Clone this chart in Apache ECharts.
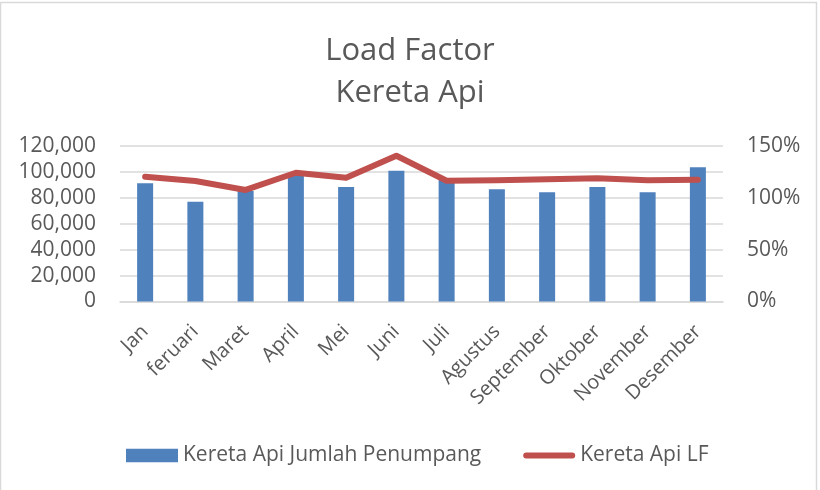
<!DOCTYPE html>
<html>
<head>
<meta charset="utf-8">
<script src="https://cdn.jsdelivr.net/npm/echarts@6/dist/echarts.min.js"></script>
<style>
html,body{margin:0;padding:0;background:#fff;}
#chart{width:820px;height:490px;}
</style>
</head>
<body>
<div id="chart"></div>
<script>
const categories = ['Jan','feruari','Maret','April','Mei','Juni','Juli','Agustus','September','Oktober','November','Desember'];
const penumpang = [91200, 77000, 85300, 97600, 88400, 100900, 94000, 86600, 84300, 88400, 84300, 103600];
const loadFactor = [120.4, 116.2, 107.6, 124.2, 119.4, 140.6, 116.5, 116.9, 117.9, 118.8, 116.9, 117.5];
const leftTicks = { min: 0, max: 120000, interval: 20000 };
const rightTicks = { min: 0, max: 150, interval: 50 };

const FONT = 'Open Sans';
const GREY = '#595959';
const chart = echarts.init(document.getElementById('chart'), null, {renderer: 'canvas'});
chart.setOption({
  animation: false,
  backgroundColor: '#fff',
  textStyle: { fontFamily: FONT },
  graphic: [{
    type: 'rect', shape: { x: 0.5, y: 2.5, width: 816, height: 500 },
    style: { fill: 'none', stroke: '#d9d9d9', lineWidth: 1.5 }, silent: true
  }],
  title: {
    text: 'Load Factor\nKereta Api',
    left: 'center', top: 25,
    textStyle: { fontFamily: FONT, fontSize: 31, fontWeight: 'normal', color: GREY, lineHeight: 42 }
  },
  legend: {
    left: 121, top: 440,
    itemWidth: 52, itemHeight: 13.5, itemGap: 42,
    textStyle: { fontFamily: FONT, fontSize: 21, color: GREY },
    data: [
      { name: 'Kereta Api Jumlah Penumpang', icon: 'rect' },
      { name: 'Kereta Api LF', icon: 'path://M3,0 L49,0 A3,3 0 0 1 49,6 L3,6 A3,3 0 0 1 3,0 Z' }
    ]
  },
  grid: { left: 120, right: 97, top: 146, bottom: 188.5, containLabel: false },
  xAxis: {
    type: 'category', data: categories,
    axisLine: { lineStyle: { color: '#d9d9d9', width: 1.5 } },
    axisTick: { show: false },
    axisLabel: { rotate: 45, color: GREY, fontSize: 20, fontFamily: FONT, margin: 27, interval: 0 }
  },
  yAxis: [{
    type: 'value', min: leftTicks.min, max: leftTicks.max, interval: leftTicks.interval,
    axisLine: { show: false }, axisTick: { show: false },
    splitLine: { lineStyle: { color: '#d9d9d9', width: 1.5 } },
    axisLabel: { color: GREY, fontSize: 21, fontFamily: FONT, margin: 24,
      formatter: v => v === 0 ? '0' : v.toLocaleString('en-US') }
  }, {
    type: 'value', min: rightTicks.min, max: rightTicks.max, interval: rightTicks.interval,
    axisLine: { show: false }, axisTick: { show: false }, splitLine: { show: false },
    axisLabel: { color: GREY, fontSize: 21, fontFamily: FONT, margin: 24, formatter: '{value}%' }
  }],
  series: [{
    name: 'Kereta Api Jumlah Penumpang', type: 'bar', data: penumpang,
    barWidth: 16, itemStyle: { color: '#4F81BD' }, yAxisIndex: 0
  }, {
    name: 'Kereta Api LF', type: 'line', data: loadFactor, yAxisIndex: 1,
    symbol: 'none', lineStyle: { color: '#C0504D', width: 6, cap: 'round', join: 'round' },
    itemStyle: { color: '#C0504D' }
  }]
});
</script>
</body>
</html>
